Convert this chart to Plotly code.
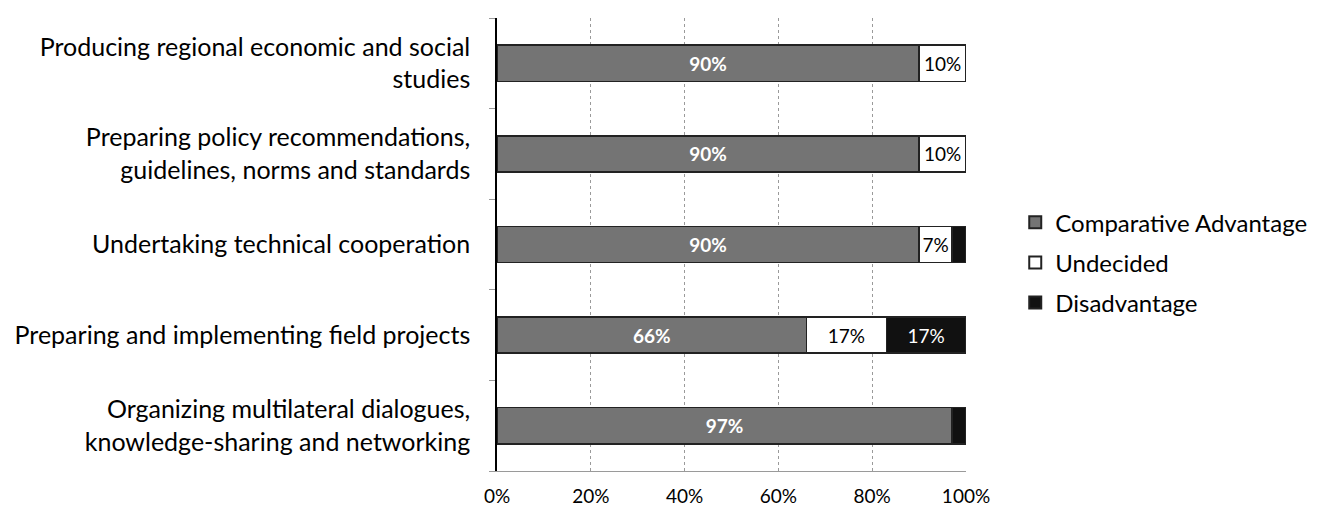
import plotly.graph_objects as go

# Survey responses (percent of respondents), listed bottom to top
categories = [
    "Organizing multilateral dialogues,<br>knowledge-sharing and networking",
    "Preparing and implementing field projects",
    "Undertaking technical cooperation",
    "Preparing policy recommendations,<br>guidelines, norms and standards",
    "Producing regional economic and social<br>studies",
]
comparative_advantage = [97, 66, 90, 90, 90]
undecided = [0, 17, 7, 10, 10]
disadvantage = [3, 17, 3, 0, 0]

x_ticks = [0, 20, 40, 60, 80, 100]
x_tick_labels = ["0%", "20%", "40%", "60%", "80%", "100%"]

FONT = "Lato, 'Open Sans', sans-serif"


def labels(values, min_show=5):
    return [f"{v}%" if v >= min_show else "" for v in values]


fig = go.Figure()

series = [
    ("Comparative Advantage", comparative_advantage, "#747474", "white", "<b>%s</b>"),
    ("Undecided", undecided, "white", "black", "%s"),
    ("Disadvantage", disadvantage, "#111111", "white", "%s"),
]

for name, vals, color, txtcolor, fmt in series:
    fig.add_trace(go.Bar(
        name=name,
        legendgroup=name,
        y=categories,
        x=vals,
        orientation="h",
        marker=dict(color=color, line=dict(color="#222222", width=1.5)),
        text=[fmt % t if t else "" for t in labels(vals)],
        textposition="inside",
        insidetextanchor="middle",
        textangle=0,
        textfont=dict(family=FONT, size=19, color=txtcolor),
        constraintext="none",
        cliponaxis=False,
        hoverinfo="skip",
    ))

fig.update_layout(
    barmode="stack",
    bargap=0.6,
    width=1322,
    height=511,
    margin=dict(l=497, r=356, t=18, b=40, autoexpand=False),
    paper_bgcolor="white",
    plot_bgcolor="white",
    font=dict(family=FONT, size=24, color="black"),
    uniformtext=dict(minsize=13, mode="show"),
    legend=dict(
        x=1.105, y=0.46, xanchor="left", yanchor="middle",
        font=dict(family=FONT, size=24, color="black"),
        traceorder="grouped",
        itemsizing="constant",
        itemwidth=30,
        tracegroupgap=6,
        bgcolor="rgba(0,0,0,0)",
    ),
    showlegend=True,
)

fig.update_xaxes(
    range=[0, 100],
    tickvals=x_ticks,
    ticktext=x_tick_labels,
    tickfont=dict(family=FONT, size=19, color="black"),
    ticklabelstandoff=8,
    showgrid=True,
    gridcolor="#9a9a9a",
    griddash="dot",
    gridwidth=1,
    zeroline=False,
    showline=True,
    linecolor="#9a9a9a",
    mirror=False,
    ticks="",
)

fig.update_yaxes(
    tickfont=dict(family=FONT, size=25, color="black"),
    showline=True,
    linecolor="black",
    linewidth=1.5,
    ticks="outside",
    tickson="boundaries",
    ticklen=6,
    tickcolor="#9a9a9a",
    ticklabelstandoff=20,
    showgrid=False,
)

fig.write_html("out.html")
